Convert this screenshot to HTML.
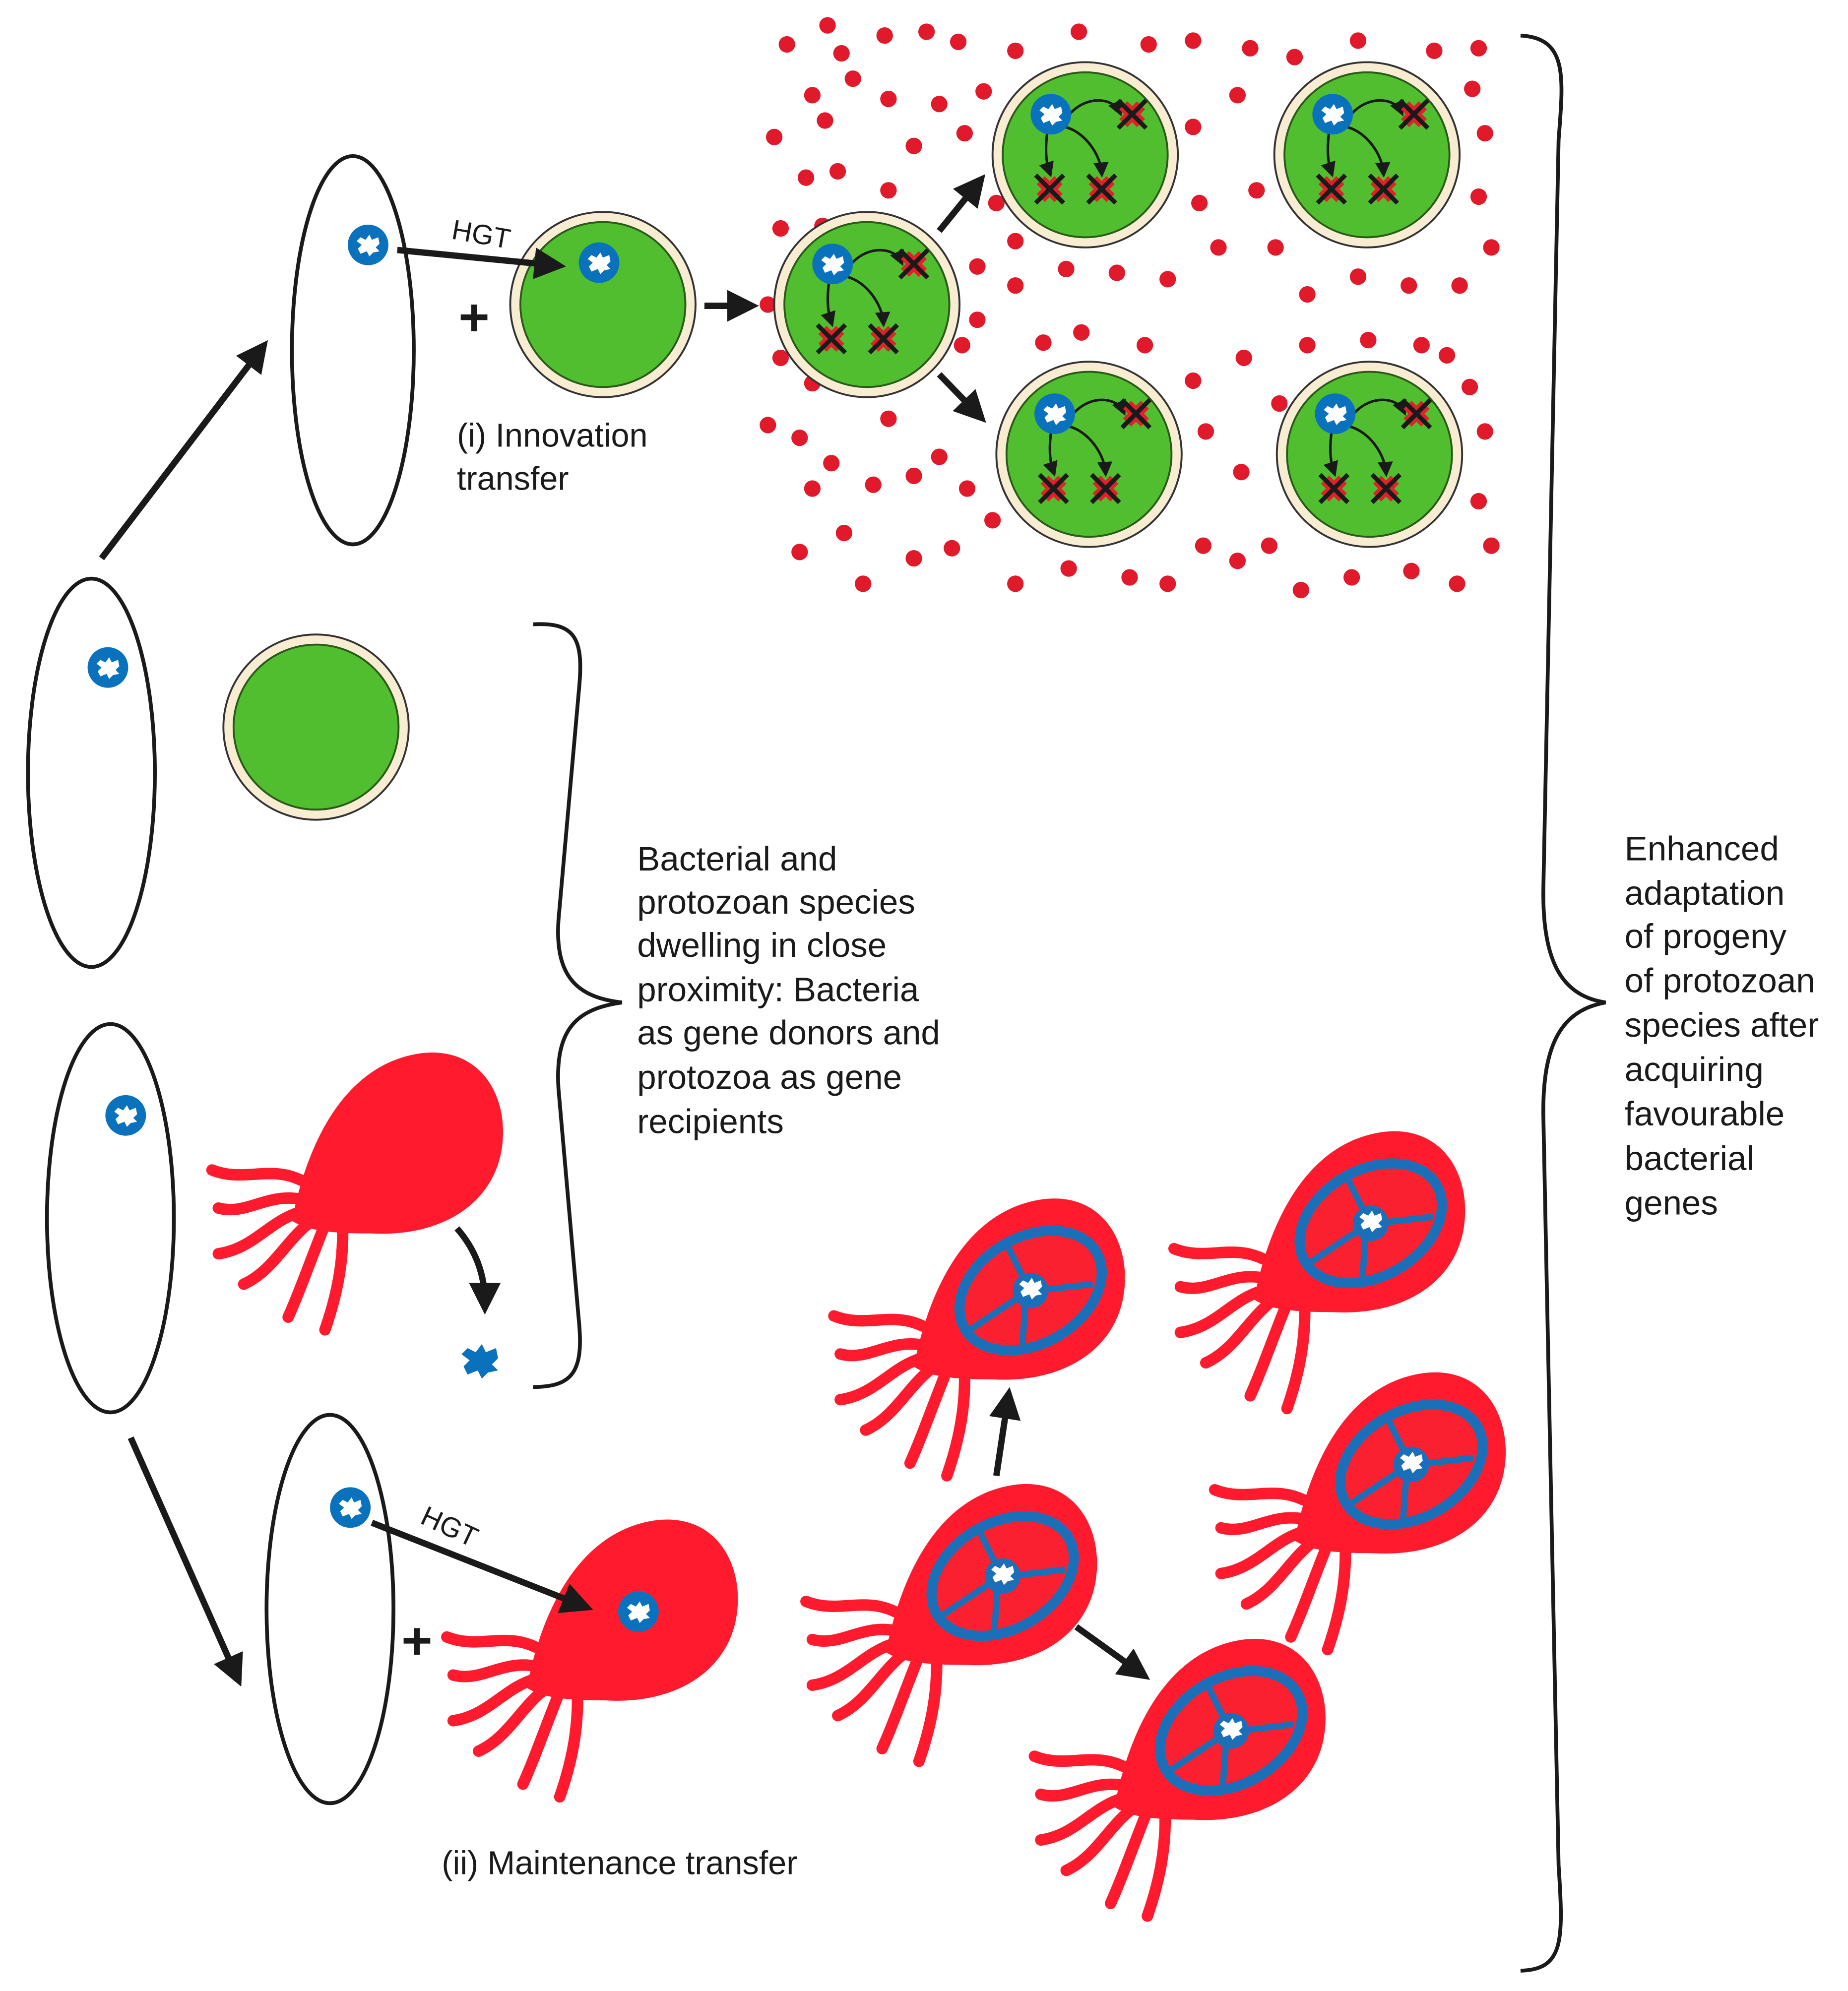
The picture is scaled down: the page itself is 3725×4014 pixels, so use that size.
<!DOCTYPE html>
<html><head><meta charset="utf-8">
<style>html,body{margin:0;padding:0;background:#fff}svg{display:block}</style>
</head><body>
<svg width="3725" height="4014" viewBox="0 0 1456 1569" xmlns="http://www.w3.org/2000/svg" font-family="Liberation Sans, sans-serif">
<defs>
<marker id="ah" markerWidth="5" markerHeight="5" refX="3" refY="2.5" orient="auto" markerUnits="strokeWidth"><path d="M0,0 L5,2.5 L0,5 z" fill="#1a1a1a"/></marker>
<marker id="sa" markerWidth="6" markerHeight="6" refX="4" refY="3" orient="auto" markerUnits="strokeWidth"><path d="M0,0 L6,3 L0,6 z" fill="#1a1a1a"/></marker>
<g id="blob"><path d="M-9,-3 L-6,-6 L-2,-4 L1,-8 L3,-4 L8,-6 L9,-1 L6,2 L9,5 L4,6 L1,9 L-1,5 L-6,7 L-8,3 L-5,0 Z" fill="#fff"/></g>
<g id="gene"><circle r="16" fill="#0a72bd"/><use href="#blob"/></g>
<g id="xx"><path d="M-7,-7 L7,7 M7,-7 L-7,7" stroke="#e0202a" stroke-width="9"/><path d="M-11,-11 L11,11 M11,-11 L-11,11" stroke="#1a1a1a" stroke-width="3.5"/></g>
<g id="cell"><circle r="73" fill="#f8ecd3" stroke="#333" stroke-width="1.5"/><circle r="65" fill="#50be2e" stroke="#2a5a1a" stroke-width="1.5"/></g>
<g id="cellx"><use href="#cell"/>
<path d="M-14,-30 C0,-48 22,-45 27,-34" stroke="#1a1a1a" stroke-width="2" fill="none" marker-end="url(#sa)"/>
<path d="M-30,-17 C-32,0 -30,8 -28,14" stroke="#1a1a1a" stroke-width="2" fill="none" marker-end="url(#sa)"/>
<path d="M-16,-22 C0,-18 12,0 13,14" stroke="#1a1a1a" stroke-width="2" fill="none" marker-end="url(#sa)"/>
<use href="#gene" x="-27" y="-32"/><use href="#xx" x="37" y="-32"/><use href="#xx" x="-28" y="27"/><use href="#xx" x="13" y="27"/></g>
<g id="proto">
<g stroke="#ff1b2d" stroke-width="9" stroke-linecap="round" fill="none">
<path d="M-85,30 C-110,18 -130,32 -155,22"/>
<path d="M-85,45 C-112,40 -128,58 -150,52"/>
<path d="M-85,55 C-110,62 -122,84 -150,88"/>
<path d="M-80,65 C-98,80 -108,102 -130,112"/>
<path d="M-68,70 C-78,95 -86,118 -95,138"/>
<path d="M-52,72 C-52,100 -58,125 -66,148"/>
</g>
<path d="M-92,62 C-80,0 -50,-62 10,-70 C60,-76 82,-30 72,12 C62,52 22,75 -30,72 C-60,72 -80,70 -92,62 Z" fill="#ff1b2d"/>
</g>
<g id="protor"><use href="#proto"/>
<g transform="translate(0,2) rotate(-30)">
<ellipse rx="60" ry="42" fill="#fa2030" stroke="#1b6fb8" stroke-width="8"/>
<path d="M0,-12 L2,-42 M10,5 L45,20 M-8,6 L-30,38 M-12,0 L-58,3" stroke="#1b6fb8" stroke-width="5" fill="none"/>
<circle r="14" fill="#1b6fb8"/>
</g><use href="#blob"/></g>
</defs>

<g fill="#e01a2a">
<circle cx="652" cy="20" r="6.5"/><circle cx="620" cy="35" r="6.5"/><circle cx="663" cy="42" r="6.5"/><circle cx="697" cy="28" r="6.5"/><circle cx="730" cy="25" r="6.5"/><circle cx="755" cy="33" r="6.5"/><circle cx="800" cy="40" r="6.5"/><circle cx="850" cy="25" r="6.5"/><circle cx="905" cy="35" r="6.5"/><circle cx="940" cy="32" r="6.5"/><circle cx="985" cy="38" r="6.5"/><circle cx="1020" cy="45" r="6.5"/><circle cx="1070" cy="32" r="6.5"/><circle cx="1130" cy="40" r="6.5"/><circle cx="1165" cy="38" r="6.5"/><circle cx="640" cy="75" r="6.5"/><circle cx="672" cy="62" r="6.5"/><circle cx="700" cy="78" r="6.5"/><circle cx="740" cy="82" r="6.5"/><circle cx="775" cy="72" r="6.5"/><circle cx="610" cy="108" r="6.5"/><circle cx="650" cy="95" r="6.5"/><circle cx="720" cy="115" r="6.5"/><circle cx="760" cy="105" r="6.5"/><circle cx="635" cy="140" r="6.5"/><circle cx="660" cy="135" r="6.5"/><circle cx="700" cy="150" r="6.5"/><circle cx="615" cy="180" r="6.5"/><circle cx="648" cy="178" r="6.5"/><circle cx="785" cy="160" r="6.5"/><circle cx="800" cy="190" r="6.5"/><circle cx="770" cy="210" r="6.5"/><circle cx="940" cy="100" r="6.5"/><circle cx="945" cy="160" r="6.5"/><circle cx="990" cy="150" r="6.5"/><circle cx="975" cy="75" r="6.5"/><circle cx="1160" cy="70" r="6.5"/><circle cx="1170" cy="105" r="6.5"/><circle cx="1165" cy="155" r="6.5"/><circle cx="1175" cy="195" r="6.5"/><circle cx="1005" cy="195" r="6.5"/><circle cx="960" cy="195" r="6.5"/><circle cx="920" cy="220" r="6.5"/><circle cx="880" cy="215" r="6.5"/><circle cx="840" cy="212" r="6.5"/><circle cx="800" cy="225" r="6.5"/><circle cx="1030" cy="232" r="6.5"/><circle cx="1070" cy="218" r="6.5"/><circle cx="1110" cy="225" r="6.5"/><circle cx="1150" cy="225" r="6.5"/><circle cx="605" cy="240" r="6.5"/><circle cx="615" cy="282" r="6.5"/><circle cx="770" cy="252" r="6.5"/><circle cx="758" cy="272" r="6.5"/><circle cx="640" cy="302" r="6.5"/><circle cx="605" cy="335" r="6.5"/><circle cx="630" cy="345" r="6.5"/><circle cx="655" cy="365" r="6.5"/><circle cx="700" cy="330" r="6.5"/><circle cx="740" cy="360" r="6.5"/><circle cx="762" cy="385" r="6.5"/><circle cx="720" cy="375" r="6.5"/><circle cx="688" cy="382" r="6.5"/><circle cx="640" cy="385" r="6.5"/><circle cx="665" cy="420" r="6.5"/><circle cx="630" cy="435" r="6.5"/><circle cx="680" cy="460" r="6.5"/><circle cx="720" cy="440" r="6.5"/><circle cx="750" cy="432" r="6.5"/><circle cx="782" cy="410" r="6.5"/><circle cx="800" cy="460" r="6.5"/><circle cx="842" cy="448" r="6.5"/><circle cx="890" cy="455" r="6.5"/><circle cx="920" cy="460" r="6.5"/><circle cx="948" cy="430" r="6.5"/><circle cx="975" cy="442" r="6.5"/><circle cx="1000" cy="430" r="6.5"/><circle cx="1025" cy="465" r="6.5"/><circle cx="1065" cy="455" r="6.5"/><circle cx="1112" cy="450" r="6.5"/><circle cx="1148" cy="460" r="6.5"/><circle cx="1175" cy="430" r="6.5"/><circle cx="1165" cy="395" r="6.5"/><circle cx="1170" cy="340" r="6.5"/><circle cx="1158" cy="305" r="6.5"/><circle cx="1140" cy="280" r="6.5"/><circle cx="980" cy="282" r="6.5"/><circle cx="950" cy="340" r="6.5"/><circle cx="978" cy="372" r="6.5"/><circle cx="1008" cy="318" r="6.5"/><circle cx="940" cy="300" r="6.5"/><circle cx="852" cy="262" r="6.5"/><circle cx="902" cy="272" r="6.5"/><circle cx="822" cy="270" r="6.5"/><circle cx="1030" cy="272" r="6.5"/><circle cx="1078" cy="268" r="6.5"/><circle cx="1120" cy="272" r="6.5"/>
</g>

<g fill="#fff" stroke="#1a1a1a" stroke-width="3">
<ellipse cx="278" cy="276" rx="48" ry="153"/>
<ellipse cx="72" cy="609" rx="50" ry="153"/>
<ellipse cx="87" cy="960" rx="50" ry="153"/>
<ellipse cx="260" cy="1268" rx="50" ry="153"/>
</g>

<use href="#cell" x="475" y="240"/>
<use href="#cell" x="249" y="573"/>
<use href="#cellx" x="683" y="240"/>
<use href="#cellx" x="855" y="122"/>
<use href="#cellx" x="1077" y="122"/>
<use href="#cellx" x="858" y="358"/>
<use href="#cellx" x="1079" y="358"/>

<use href="#proto" x="322" y="900"/>
<use href="#proto" x="507" y="1268"/>
<use href="#protor" x="812" y="1015"/>
<use href="#protor" x="1080" y="962"/>
<use href="#protor" x="1112" y="1152"/>
<use href="#protor" x="790" y="1240"/>
<use href="#protor" x="970" y="1362"/>

<g stroke="#1a1a1a" stroke-width="5" fill="none" marker-end="url(#ah)">
<path d="M80,440 L205,276"/>
<path d="M103,1133 L186,1320"/>
<path d="M313,197 L436,209"/>
<path d="M555,241 L588,241"/>
<path d="M740,182 L770,145"/>
<path d="M740,295 L770,326"/>
<path d="M785,1163 L794,1103"/>
<path d="M848,1282 L898,1318"/>
<path d="M360,968 C375,985 382,1005 382,1026"/>
<path d="M293,1200 L458,1265"/>
</g>

<use href="#gene" x="290" y="193"/>
<use href="#gene" x="472" y="207"/>
<use href="#gene" x="85" y="526"/>
<use href="#gene" x="99" y="879"/>
<use href="#gene" x="276" y="1188"/>
<use href="#gene" x="503" y="1270"/>
<g transform="translate(378,1072) scale(1.6)"><path d="M-9,-3 L-6,-6 L-2,-4 L1,-8 L3,-4 L8,-6 L9,-1 L6,2 L9,5 L4,6 L1,9 L-1,5 L-6,7 L-8,3 L-5,0 Z" fill="#0a72bd"/></g>

<path d="M363,250 H384 M373.5,240 V261" stroke="#1a1a1a" stroke-width="4.5"/>
<path d="M318,1293 H339 M328.5,1283 V1304" stroke="#1a1a1a" stroke-width="4.5"/>

<g stroke="#1a1a1a" stroke-width="3" fill="none">
<path d="M420,492 C455,490 460,505 456,545 L440,725 C437,770 455,786 490,790 C455,795 437,810 440,858 L456,1040 C460,1080 452,1093 420,1093"/>
<path d="M1198,28 C1235,30 1232,60 1228,110 L1216,700 C1215,760 1232,785 1265,790 C1232,796 1215,820 1216,880 L1228,1470 C1232,1530 1232,1552 1198,1553"/>
</g>

<g fill="#1a1a1a" font-size="26">
<text x="355" y="188" font-size="22" transform="rotate(10 355 188)">HGT</text>
<text x="330" y="1200" font-size="22" transform="rotate(25 330 1200)">HGT</text>
<text x="360" y="352">(i)  Innovation</text>
<text x="360" y="386">transfer</text>
<text x="348" y="1477">(ii)  Maintenance transfer</text>
<g font-size="27">
<text x="502" y="686">Bacterial and</text>
<text x="502" y="720">protozoan species</text>
<text x="502" y="754">dwelling in close</text>
<text x="502" y="789">proximity: Bacteria</text>
<text x="502" y="823">as gene donors and</text>
<text x="502" y="858">protozoa as gene</text>
<text x="502" y="893">recipients</text>
<text x="1280" y="678">Enhanced</text>
<text x="1280" y="713">adaptation</text>
<text x="1280" y="747">of progeny</text>
<text x="1280" y="782">of protozoan</text>
<text x="1280" y="817">species after</text>
<text x="1280" y="852">acquiring</text>
<text x="1280" y="887">favourable</text>
<text x="1280" y="922">bacterial</text>
<text x="1280" y="957">genes</text>
</g>
</g>
</svg>
</body></html>
